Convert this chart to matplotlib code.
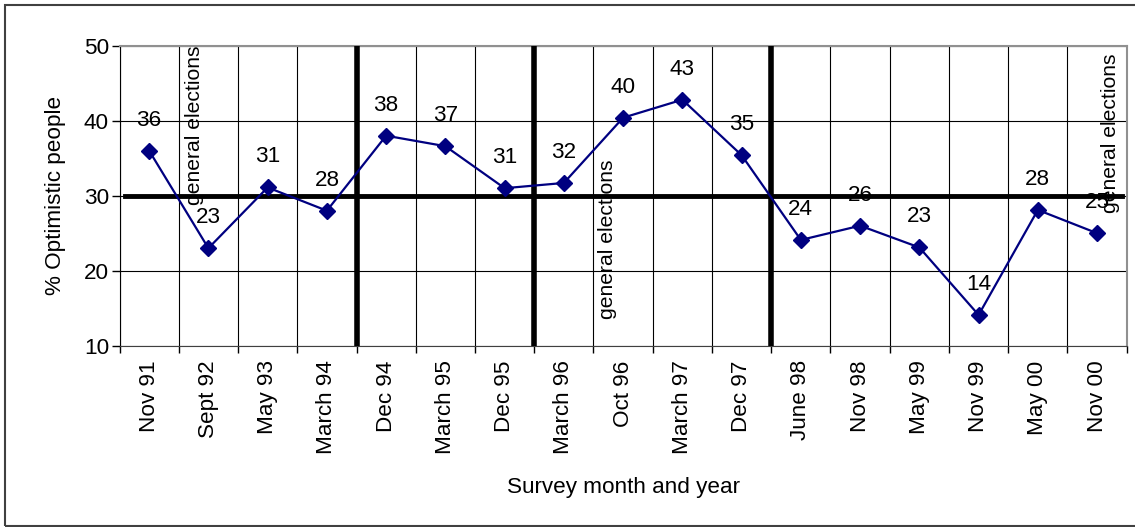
import matplotlib.pyplot as plt
from matplotlib.patches import Rectangle
import numpy as np

surveys = ['Nov 91', 'Sept 92', 'May 93', 'March 94', 'Dec 94', 'March 95',
           'Dec 95', 'March 96', 'Oct 96', 'March 97', 'Dec 97', 'June 98',
           'Nov 98', 'May 99', 'Nov 99', 'May 00', 'Nov 00']
optimistic = [36.0, 23.0, 31.1, 28.0, 38.0, 36.6, 31.0, 31.7, 40.4, 42.8,
              35.4, 24.1, 26.0, 23.1, 14.1, 28.1, 25.0]

# period breaks sit between surveys
breaks = [3.5, 6.5, 10.5]
average = 30
elections = [(0.77, 28.8), (7.73, 13.5), (16.22, 27.7)]

plt.rcParams['font.family'] = ['Liberation Sans', 'DejaVu Sans']
plt.rcParams['font.size'] = 16.2

fig = plt.figure(figsize=(11.35, 5.27), dpi=100)
ax = fig.add_axes([0.1053, 0.344, 0.8874, 0.5693])

x = np.arange(len(surveys))
ax.plot(x, optimistic, color='#000080', lw=1.6, marker='D', ms=8, zorder=5)

for xi, v in zip(x, optimistic):
    ax.annotate(f'{v:.0f}', (xi, v), xytext=(0, 22), textcoords='offset points',
                ha='center', va='center', zorder=6)

ax.set_xlim(-0.5, len(surveys) - 0.5)
ax.set_ylim(10, 50)
ax.set_yticks([10, 20, 30, 40, 50])

# ticks and grid on the category boundaries, labels in the middle
ax.set_xticks(np.arange(-0.5, len(surveys)))
ax.set_xticklabels([])
ax.set_xticks(x, minor=True)
ax.set_xticklabels(surveys, minor=True, rotation=90, va='top')
ax.tick_params(axis='x', which='major', length=5, width=1, direction='out')
ax.tick_params(axis='x', which='minor', length=0, pad=10.5)
ax.tick_params(axis='y', length=5.5, width=1, pad=2)

ax.grid(True, which='major', color='black', lw=0.8)
ax.set_axisbelow(True)

for b in breaks:
    ax.axvline(b, color='black', lw=4, zorder=3)
ax.axhline(average, xmin=0.005, xmax=0.9955, color='black', lw=3.5, zorder=3)

for ex, ey in elections:
    ax.text(ex, ey, 'general elections', rotation=90, ha='center', va='bottom',
            fontsize=15.2, zorder=7)

ax.spines['left'].set_color('black')
ax.spines['bottom'].set_color('#404040')
for s in ['top', 'right']:
    ax.spines[s].set_color('#909090')
    ax.spines[s].set_linewidth(1.5)

ax.set_ylabel('% Optimistic people', labelpad=13)
ax.set_xlabel('Survey month and year', labelpad=16)

fig.patches.append(Rectangle((4.5 / 1135, 1.5 / 527), 1.0, 1 - 6.5 / 527,
                             transform=fig.transFigure, fill=False,
                             edgecolor='#404040', lw=1.5))

fig.savefig('out.png', dpi=100, facecolor='white')
